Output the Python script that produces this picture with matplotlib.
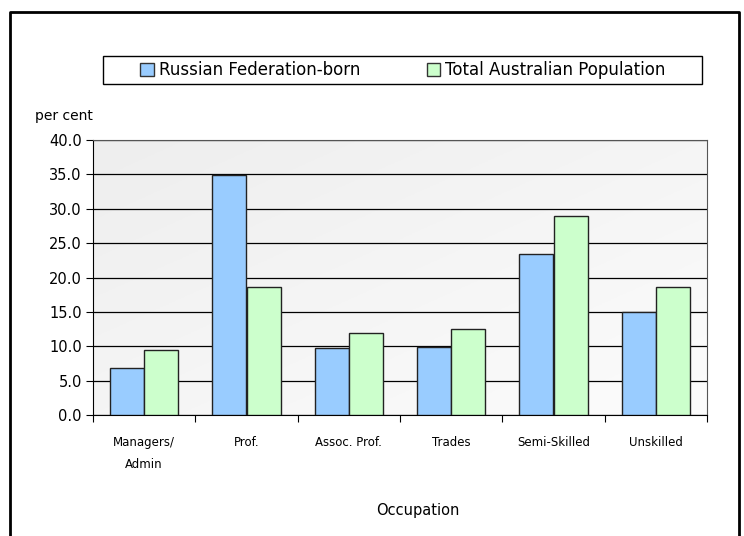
import numpy as np
import matplotlib
matplotlib.use("Agg")
from matplotlib import pyplot as plt
from matplotlib.patches import Rectangle, Patch

occupations = ["Managers/\nAdmin", "Prof.", "Assoc. Prof.", "Trades", "Semi-Skilled", "Unskilled"]
russian_born = [6.8, 34.9, 9.8, 9.9, 23.4, 15.0]
total_aus = [9.4, 18.6, 11.9, 12.5, 28.9, 18.6]
series_names = ["Russian Federation-born", "Total Australian Population"]
colors = ["#99CCFF", "#CCFFCC"]

W, H = 744, 536
fig = plt.figure(figsize=(W / 100, H / 100), dpi=100)
fig.patch.set_facecolor("white")

# outer frame (open at the bottom)
fig.add_artist(plt.Line2D([10 / W, 10 / W, 739 / W, 739 / W], [0, 1 - 12 / H, 1 - 12 / H, 0],
                          transform=fig.transFigure, color="black", lw=2))

left, right, top, bottom = 93, 707, 140, 415
ax = fig.add_axes([left / W, 1 - bottom / H, (right - left) / W, (bottom - top) / H])

# soft grey gradient behind the bars, darker at top-left
gx, gy = np.meshgrid(np.linspace(0, 1, 200), np.linspace(0, 1, 200))
grad = 0.5 * gx + 0.5 * gy
ax.imshow(grad, extent=[0, 6, 0, 40], cmap=matplotlib.colors.LinearSegmentedColormap.from_list(
    "bg", ["#eeeeee", "#fcfcfc"]), aspect="auto", origin="upper", zorder=0)

x = np.arange(len(occupations)) + 0.5
w = 1 / 3
ax.bar(x - w / 2, russian_born, w, color=colors[0], edgecolor="#222222", lw=1, zorder=3)
ax.bar(x + w / 2, total_aus, w, color=colors[1], edgecolor="#222222", lw=1, zorder=3)

ax.set_xlim(0, 6)
ax.set_ylim(0, 40)
ax.set_yticks(np.arange(0, 40.1, 5))
ax.set_yticklabels([f"{v:.1f}" for v in np.arange(0, 40.1, 5)], fontsize=10.5)
ax.yaxis.grid(True, color="black", lw=0.9, zorder=1)
ax.set_axisbelow(True)
ax.set_xticks(np.arange(0, 7))
ax.set_xticklabels([])
ax.set_xticks(x, minor=True)
ax.set_xticklabels(occupations, minor=True, fontsize=8.5, linespacing=1.9)
ax.tick_params(axis="x", which="minor", length=0, pad=15)
ax.tick_params(axis="x", which="major", length=5, color="black")
ax.tick_params(axis="y", length=5, pad=3)
for s in ["top", "right"]:
    ax.spines[s].set_color("#555555")
ax.spines["left"].set_color("black")
ax.spines["bottom"].set_color("black")

fig.text(35 / W, 1 - 116 / H, "per cent", fontsize=10, va="center", ha="left")
fig.text(418 / W, 1 - 511 / H, "Occupation", fontsize=10.5, va="center", ha="center")

# legend box drawn separately so it can be wider than its entries
fig.add_artist(Rectangle((103 / W, 1 - 84 / H), (702 - 103) / W, 28 / H,
                         transform=fig.transFigure, facecolor="white", edgecolor="black", lw=1))
handles = [Patch(facecolor=c, edgecolor="#333333") for c in colors]
leg = fig.legend(handles, series_names, loc="center", ncol=2, fontsize=12,
                 bbox_to_anchor=(403 / W, 1 - 70 / H), frameon=False,
                 handlelength=0.8, handleheight=0.8, handletextpad=0.3,
                 columnspacing=4.0)

fig.savefig("out.png", dpi=100)
